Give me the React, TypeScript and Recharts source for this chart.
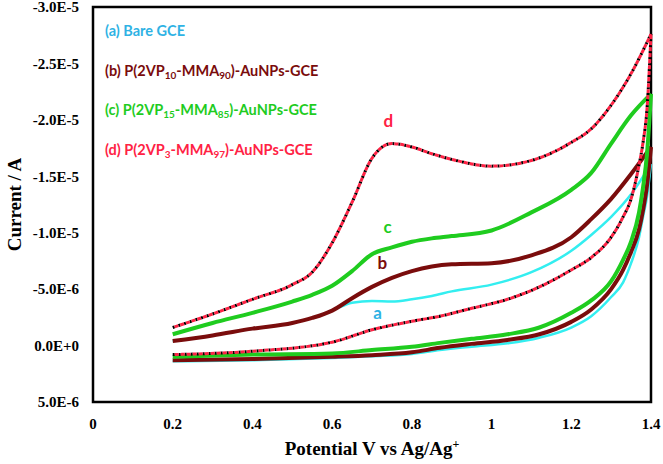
import { LineChart, Line, XAxis, YAxis, ReferenceArea, ReferenceDot } from 'recharts';

// potentials (V) of the forward and reverse scans
const forwardV = [0.2, 0.3, 0.4, 0.5, 0.55, 0.6, 0.65, 0.7, 0.75, 0.8, 0.85, 0.9, 1.0, 1.1, 1.2, 1.25, 1.3, 1.35, 1.4];
const reverseV = [0.2, 0.4, 0.6, 0.7, 0.8, 0.87, 0.95, 1.04, 1.12, 1.2, 1.25, 1.3, 1.33, 1.35, 1.37, 1.38, 1.39, 1.4];

// currents in µA (negative = up)
const aForward = [-0.4, -0.9, -1.5, -2.0, -2.45, -3.1, -3.8, -3.95, -3.9, -4.1, -4.4, -4.8, -5.4, -6.5, -8.4, -9.8, -11.4, -13.4, -16.1];
const bForward = [-0.4, -0.9, -1.5, -2.0, -2.45, -3.1, -4.2, -5.2, -6.0, -6.6, -7.0, -7.2, -7.3, -8.0, -9.6, -11.2, -13.0, -15.2, -17.6];
const cForward = [-1.0, -2.0, -2.9, -3.9, -4.5, -5.3, -6.6, -8.1, -8.7, -9.2, -9.5, -9.7, -10.2, -11.8, -13.8, -15.3, -17.9, -20.4, -22.3];
const dForward = [-1.6, -2.8, -4.1, -5.4, -6.5, -9.1, -12.7, -16.6, -17.9, -17.6, -17.0, -16.5, -15.9, -16.4, -18.0, -19.2, -21.3, -24.1, -27.6];

const aReverse = [1.4, 1.3, 1.1, 0.95, 0.75, 0.4, 0.1, -0.2, -0.7, -1.6, -2.6, -4.3, -5.6, -7.3, -9.6, -11.4, -13.2, -16.1];
const bReverse = [1.3, 1.2, 1.0, 0.85, 0.6, 0.2, -0.15, -0.5, -1.0, -2.1, -3.2, -5.0, -6.7, -8.3, -10.3, -12.0, -14.2, -17.6];
const cReverse = [1.0, 0.8, 0.7, 0.4, 0.1, -0.24, -0.6, -1.0, -1.6, -2.9, -4.0, -5.7, -7.6, -9.2, -11.8, -14.0, -17.0, -22.3];
const dReverse = [0.8, 0.5, -0.3, -1.4, -2.15, -2.6, -3.3, -4.1, -5.2, -6.7, -7.8, -9.6, -11.4, -13.0, -16.0, -18.0, -21.0, -27.6];

const xTicks = [0, 0.2, 0.4, 0.6, 0.8, 1.0, 1.2, 1.4];
const yTicks = [-30, -25, -20, -15, -10, -5, 0, 5];

const toRows = (xs: number[], ys: number[]) => xs.map((v, i) => ({ v, i: ys[i] }));

const CYAN = '#33eef0';
const MAROON = '#7a0c0c';
const GREEN = '#1fcc1f';
const RED = '#ff2244';

const serif = '"Liberation Serif", "Times New Roman", serif';
const sans = 'Lato, "Open Sans", sans-serif';

const legendItems = [
  { color: '#2fb2e4', parts: [['(a) Bare GCE', '']] },
  { color: MAROON, parts: [['(b) P(2VP', '10'], ['-MMA', '90'], [')-AuNPs-GCE', '']] },
  { color: GREEN, parts: [['(c) P(2VP', '15'], ['-MMA', '85'], [')-AuNPs-GCE', '']] },
  { color: RED, parts: [['(d) P(2VP', '3'], ['-MMA', '97'], [')-AuNPs-GCE', '']] },
];

const fmt = (v: number) => (v * 1e-6).toExponential(1).toUpperCase();

function XLabel(props: any) {
  const { viewBox } = props;
  const cx = viewBox.x + viewBox.width / 2;
  return (
    <text x={cx} y={viewBox.y + 53} textAnchor="middle" fontFamily={serif} fontWeight="bold" fontSize={19} fill="#000">
      Potential V vs Ag/Ag<tspan dy={-7} fontSize={12}>+</tspan>
    </text>
  );
}

export default function App() {
  const lines: [string, number[], number[], string, number][] = [
    ['a', aForward, aReverse, CYAN, 2.5],
    ['b', bForward, bReverse, MAROON, 4],
    ['c', cForward, cReverse, GREEN, 4],
  ];
  return (
    <div style={{ position: 'absolute', left: 0, top: 0, width: 663, height: 464, background: '#fff' }}>
      <LineChart width={663} height={464} margin={{ top: 7, right: 12, bottom: 0, left: 0 }}>
        <XAxis
          type="number"
          dataKey="v"
          domain={[0, 1.4]}
          ticks={xTicks}
          interval={0}
          tickFormatter={(v: number) => String(Math.round(v * 10) / 10)}
          tickLine={false}
          axisLine={false}
          height={62}
          tickMargin={10}
          tick={{ fontFamily: serif, fontWeight: 'bold', fontSize: 15, fill: '#000' }}
          label={<XLabel />}
          allowDuplicatedCategory={false}
        />
        <YAxis
          type="number"
          dataKey="i"
          domain={[-30, 5]}
          reversed
          ticks={yTicks}
          interval={0}
          tickFormatter={fmt}
          tickLine={false}
          axisLine={false}
          width={93}
          tickMargin={8}
          tick={{ fontFamily: serif, fontWeight: 'bold', fontSize: 15, fill: '#000' }}
          label={{ value: 'Current / A', angle: -90, position: 'insideLeft', offset: 14, style: { fontFamily: serif, fontWeight: 'bold', fontSize: 19, fill: '#000', textAnchor: 'middle' } }}
        />
        <ReferenceArea x1={0} x2={1.4} y1={-30} y2={5} fill="none" stroke="#000" strokeWidth={2.5} />
        {lines.map(([k, f, r, color, w]) => [
          <Line key={k + 'f'} data={toRows(forwardV, f)} dataKey="i" type="monotone" stroke={color} strokeWidth={w} dot={false} isAnimationActive={false} />,
          <Line key={k + 'r'} data={toRows(reverseV, r)} dataKey="i" type="monotone" stroke={color} strokeWidth={w} dot={false} isAnimationActive={false} />,
        ])}
        <Line data={toRows(forwardV, dForward)} dataKey="i" type="monotone" stroke="#000" strokeWidth={3} strokeDasharray="2 4" dot={false} isAnimationActive={false} />
        <Line data={toRows(reverseV, dReverse)} dataKey="i" type="monotone" stroke="#000" strokeWidth={3} strokeDasharray="2 4" dot={false} isAnimationActive={false} />
        <Line data={toRows(forwardV, dForward)} dataKey="i" type="monotone" stroke={RED} strokeWidth={3} strokeDasharray="4 2" strokeDashoffset={-2} dot={false} isAnimationActive={false} />
        <Line data={toRows(reverseV, dReverse)} dataKey="i" type="monotone" stroke={RED} strokeWidth={3} strokeDasharray="4 2" strokeDashoffset={-2} dot={false} isAnimationActive={false} />
        <ReferenceDot x={0.714} y={-2.9} r={0} label={{ value: 'a', position: 'center', fill: '#2fb2e4', fontFamily: sans, fontWeight: 'bold', fontSize: 17 }} />
        <ReferenceDot x={0.726} y={-7.35} r={0} label={{ value: 'b', position: 'center', fill: MAROON, fontFamily: sans, fontWeight: 'bold', fontSize: 17 }} />
        <ReferenceDot x={0.739} y={-10.5} r={0} label={{ value: 'c', position: 'center', fill: GREEN, fontFamily: sans, fontWeight: 'bold', fontSize: 17 }} />
        <ReferenceDot x={0.741} y={-19.9} r={0} label={{ value: 'd', position: 'center', fill: RED, fontFamily: sans, fontWeight: 'bold', fontSize: 17 }} />
      </LineChart>
      {legendItems.map((item, idx) => (
        <div
          key={idx}
          style={{
            position: 'absolute',
            left: 105,
            top: 22 + idx * 39.5,
            color: item.color,
            fontFamily: sans,
            fontWeight: 'bold',
            fontSize: 14.5,
            lineHeight: '18px',
            whiteSpace: 'nowrap',
          }}
        >
          {item.parts.map(([t, s], j) => (
            <span key={j}>
              {t}
              {s ? <sub style={{ fontSize: 10, verticalAlign: '-3px', lineHeight: 0 }}>{s}</sub> : null}
            </span>
          ))}
        </div>
      ))}
    </div>
  );
}
